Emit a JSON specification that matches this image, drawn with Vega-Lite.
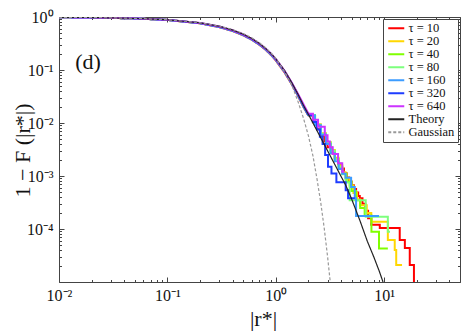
{
"$schema": "https://vega.github.io/schema/vega-lite/v6.json",
"width": 401, "height": 265,
"autosize": {"type": "none"},
"padding": {"left": 59, "top": 17, "right": 12, "bottom": 50},
"background": "white",
"config": {"view": {"stroke": "#444", "strokeWidth": 1}, "font": "Liberation Serif"},
"datasets": {
"d": [
{"s":"τ = 10","p":"b","r":0.01,"v":0.9885},{"s":"τ = 10","p":"b","r":0.02,"v":0.976},{"s":"τ = 10","p":"b","r":0.05,"v":0.94},{"s":"τ = 10","p":"b","r":0.1,"v":0.879},{"s":"τ = 10","p":"b","r":0.2,"v":0.76},{"s":"τ = 10","p":"b","r":0.3,"v":0.645},{"s":"τ = 10","p":"b","r":0.4,"v":0.543},{"s":"τ = 10","p":"b","r":0.5,"v":0.452},{"s":"τ = 10","p":"b","r":0.6,"v":0.372},{"s":"τ = 10","p":"b","r":0.7,"v":0.302},{"s":"τ = 10","p":"b","r":0.8,"v":0.243},{"s":"τ = 10","p":"b","r":0.9,"v":0.193},{"s":"τ = 10","p":"b","r":1.0,"v":0.151},{"s":"τ = 10","p":"b","r":1.2,"v":0.091},{"s":"τ = 10","p":"b","r":1.4,"v":0.054},{"s":"τ = 10","p":"b","r":1.6,"v":0.0325},{"s":"τ = 10","p":"b","r":1.8,"v":0.02},{"s":"τ = 10","p":"b","r":2.0,"v":0.0137},
{"s":"τ = 10","p":"k","r":2.0,"v":0.0137},{"s":"τ = 10","p":"k","r":2.2,"v":0.0103},{"s":"τ = 10","p":"k","r":2.4,"v":0.0076},{"s":"τ = 10","p":"k","r":2.6,"v":0.0058},{"s":"τ = 10","p":"k","r":2.8,"v":0.0045},{"s":"τ = 10","p":"k","r":3.0,"v":0.0035},{"s":"τ = 10","p":"k","r":3.26,"v":0.0027},{"s":"τ = 10","p":"k","r":3.5,"v":0.00214},{"s":"τ = 10","p":"k","r":3.75,"v":0.0017},{"s":"τ = 10","p":"k","r":4.0,"v":0.00138},{"s":"τ = 10","p":"k","r":4.25,"v":0.00113},{"s":"τ = 10","p":"k","r":4.5,"v":0.00094},{"s":"τ = 10","p":"k","r":4.75,"v":0.00079},{"s":"τ = 10","p":"k","r":5.0,"v":0.00067},{"s":"τ = 10","p":"k","r":5.25,"v":0.00057},{"s":"τ = 10","p":"k","r":5.5,"v":0.00049},{"s":"τ = 10","p":"k","r":5.75,"v":0.00042},{"s":"τ = 10","p":"k","r":5.95,"v":0.00038},{"s":"τ = 10","p":"k","r":6.3,"v":0.0003},{"s":"τ = 10","p":"k","r":6.7,"v":0.00022},{"s":"τ = 10","p":"k","r":7.1,"v":0.00016},{"s":"τ = 10","p":"k","r":7.6,"v":0.00012},{"s":"τ = 10","p":"k","r":9.1,"v":0.000105},{"s":"τ = 10","p":"k","r":13.9,"v":0.000062},{"s":"τ = 10","p":"k","r":15.5,"v":0.000044},{"s":"τ = 10","p":"k","r":17.2,"v":0.000021},{"s":"τ = 10","p":"k","r":18.8,"v":0.000005},
{"s":"τ = 20","p":"b","r":0.01,"v":0.9885},{"s":"τ = 20","p":"b","r":0.02,"v":0.9765},{"s":"τ = 20","p":"b","r":0.05,"v":0.941},{"s":"τ = 20","p":"b","r":0.1,"v":0.882},{"s":"τ = 20","p":"b","r":0.2,"v":0.766},{"s":"τ = 20","p":"b","r":0.3,"v":0.656},{"s":"τ = 20","p":"b","r":0.4,"v":0.555},{"s":"τ = 20","p":"b","r":0.5,"v":0.464},{"s":"τ = 20","p":"b","r":0.6,"v":0.382},{"s":"τ = 20","p":"b","r":0.7,"v":0.311},{"s":"τ = 20","p":"b","r":0.8,"v":0.251},{"s":"τ = 20","p":"b","r":0.9,"v":0.2},{"s":"τ = 20","p":"b","r":1.0,"v":0.158},{"s":"τ = 20","p":"b","r":1.2,"v":0.0955},{"s":"τ = 20","p":"b","r":1.4,"v":0.0565},{"s":"τ = 20","p":"b","r":1.6,"v":0.0342},{"s":"τ = 20","p":"b","r":1.8,"v":0.021},{"s":"τ = 20","p":"b","r":2.0,"v":0.0142},
{"s":"τ = 20","p":"k","r":2.0,"v":0.0142},{"s":"τ = 20","p":"k","r":2.3,"v":0.0095},{"s":"τ = 20","p":"k","r":2.6,"v":0.0064},{"s":"τ = 20","p":"k","r":2.9,"v":0.0044},{"s":"τ = 20","p":"k","r":3.2,"v":0.0031},{"s":"τ = 20","p":"k","r":3.5,"v":0.0022},{"s":"τ = 20","p":"k","r":3.8,"v":0.0016},{"s":"τ = 20","p":"k","r":4.1,"v":0.00118},{"s":"τ = 20","p":"k","r":4.4,"v":0.0009},{"s":"τ = 20","p":"k","r":4.8,"v":0.00066},{"s":"τ = 20","p":"k","r":5.2,"v":0.00048},{"s":"τ = 20","p":"k","r":5.6,"v":0.00036},{"s":"τ = 20","p":"k","r":6.0,"v":0.00028},{"s":"τ = 20","p":"k","r":6.9,"v":0.0002},{"s":"τ = 20","p":"k","r":7.6,"v":0.000137},{"s":"τ = 20","p":"k","r":10.8,"v":0.000062},{"s":"τ = 20","p":"k","r":12.5,"v":0.00004},{"s":"τ = 20","p":"k","r":12.9,"v":0.000021},{"s":"τ = 20","p":"k","r":14.6,"v":0.000021},
{"s":"τ = 40","p":"b","r":0.01,"v":0.9885},{"s":"τ = 40","p":"b","r":0.02,"v":0.9765},{"s":"τ = 40","p":"b","r":0.05,"v":0.941},{"s":"τ = 40","p":"b","r":0.1,"v":0.881},{"s":"τ = 40","p":"b","r":0.2,"v":0.765},{"s":"τ = 40","p":"b","r":0.3,"v":0.654},{"s":"τ = 40","p":"b","r":0.4,"v":0.553},{"s":"τ = 40","p":"b","r":0.5,"v":0.462},{"s":"τ = 40","p":"b","r":0.6,"v":0.38},{"s":"τ = 40","p":"b","r":0.7,"v":0.31},{"s":"τ = 40","p":"b","r":0.8,"v":0.25},{"s":"τ = 40","p":"b","r":0.9,"v":0.199},{"s":"τ = 40","p":"b","r":1.0,"v":0.157},{"s":"τ = 40","p":"b","r":1.2,"v":0.095},{"s":"τ = 40","p":"b","r":1.4,"v":0.0563},{"s":"τ = 40","p":"b","r":1.6,"v":0.034},{"s":"τ = 40","p":"b","r":1.8,"v":0.0208},{"s":"τ = 40","p":"b","r":2.0,"v":0.0141},
{"s":"τ = 40","p":"k","r":2.0,"v":0.0141},{"s":"τ = 40","p":"k","r":2.3,"v":0.0092},{"s":"τ = 40","p":"k","r":2.6,"v":0.0062},{"s":"τ = 40","p":"k","r":2.9,"v":0.0042},{"s":"τ = 40","p":"k","r":3.2,"v":0.0029},{"s":"τ = 40","p":"k","r":3.5,"v":0.0021},{"s":"τ = 40","p":"k","r":3.8,"v":0.0015},{"s":"τ = 40","p":"k","r":4.1,"v":0.0011},{"s":"τ = 40","p":"k","r":4.5,"v":0.00078},{"s":"τ = 40","p":"k","r":5.0,"v":0.00052},{"s":"τ = 40","p":"k","r":5.5,"v":0.00035},{"s":"τ = 40","p":"k","r":6.0,"v":0.00025},{"s":"τ = 40","p":"k","r":6.6,"v":0.00018},{"s":"τ = 40","p":"k","r":7.62,"v":0.000089},{"s":"τ = 40","p":"k","r":8.95,"v":0.000043},{"s":"τ = 40","p":"k","r":10.8,"v":0.000043},
{"s":"τ = 80","p":"b","r":0.01,"v":0.9885},{"s":"τ = 80","p":"b","r":0.02,"v":0.9765},{"s":"τ = 80","p":"b","r":0.05,"v":0.941},{"s":"τ = 80","p":"b","r":0.1,"v":0.881},{"s":"τ = 80","p":"b","r":0.2,"v":0.764},{"s":"τ = 80","p":"b","r":0.3,"v":0.652},{"s":"τ = 80","p":"b","r":0.4,"v":0.551},{"s":"τ = 80","p":"b","r":0.5,"v":0.46},{"s":"τ = 80","p":"b","r":0.6,"v":0.378},{"s":"τ = 80","p":"b","r":0.7,"v":0.308},{"s":"τ = 80","p":"b","r":0.8,"v":0.248},{"s":"τ = 80","p":"b","r":0.9,"v":0.198},{"s":"τ = 80","p":"b","r":1.0,"v":0.156},{"s":"τ = 80","p":"b","r":1.2,"v":0.0945},{"s":"τ = 80","p":"b","r":1.4,"v":0.056},{"s":"τ = 80","p":"b","r":1.6,"v":0.0338},{"s":"τ = 80","p":"b","r":1.8,"v":0.0207},{"s":"τ = 80","p":"b","r":2.0,"v":0.014},
{"s":"τ = 80","p":"k","r":2.0,"v":0.014},{"s":"τ = 80","p":"k","r":2.3,"v":0.0093},{"s":"τ = 80","p":"k","r":2.6,"v":0.0063},{"s":"τ = 80","p":"k","r":2.9,"v":0.0043},{"s":"τ = 80","p":"k","r":3.2,"v":0.003},{"s":"τ = 80","p":"k","r":3.5,"v":0.0021},{"s":"τ = 80","p":"k","r":3.8,"v":0.0015},{"s":"τ = 80","p":"k","r":4.1,"v":0.00108},{"s":"τ = 80","p":"k","r":4.4,"v":0.00075},{"s":"τ = 80","p":"k","r":4.8,"v":0.00035},{"s":"τ = 80","p":"k","r":6.75,"v":0.00017},{"s":"τ = 80","p":"k","r":10.8,"v":0.000089},{"s":"τ = 80","p":"k","r":11.3,"v":0.000089},
{"s":"τ = 160","p":"b","r":0.01,"v":0.9885},{"s":"τ = 160","p":"b","r":0.02,"v":0.9765},{"s":"τ = 160","p":"b","r":0.05,"v":0.94},{"s":"τ = 160","p":"b","r":0.1,"v":0.88},{"s":"τ = 160","p":"b","r":0.2,"v":0.762},{"s":"τ = 160","p":"b","r":0.3,"v":0.65},{"s":"τ = 160","p":"b","r":0.4,"v":0.548},{"s":"τ = 160","p":"b","r":0.5,"v":0.457},{"s":"τ = 160","p":"b","r":0.6,"v":0.375},{"s":"τ = 160","p":"b","r":0.7,"v":0.306},{"s":"τ = 160","p":"b","r":0.8,"v":0.247},{"s":"τ = 160","p":"b","r":0.9,"v":0.197},{"s":"τ = 160","p":"b","r":1.0,"v":0.155},{"s":"τ = 160","p":"b","r":1.2,"v":0.094},{"s":"τ = 160","p":"b","r":1.4,"v":0.0555},{"s":"τ = 160","p":"b","r":1.6,"v":0.0335},{"s":"τ = 160","p":"b","r":1.8,"v":0.0205},{"s":"τ = 160","p":"b","r":2.0,"v":0.0139},
{"s":"τ = 160","p":"k","r":2.0,"v":0.0139},{"s":"τ = 160","p":"k","r":2.3,"v":0.0091},{"s":"τ = 160","p":"k","r":2.6,"v":0.006},{"s":"τ = 160","p":"k","r":2.9,"v":0.004},{"s":"τ = 160","p":"k","r":3.2,"v":0.0027},{"s":"τ = 160","p":"k","r":3.5,"v":0.0019},{"s":"τ = 160","p":"k","r":3.8,"v":0.00135},{"s":"τ = 160","p":"k","r":4.1,"v":0.0011},{"s":"τ = 160","p":"k","r":4.4,"v":0.00093},{"s":"τ = 160","p":"k","r":4.95,"v":0.00062},{"s":"τ = 160","p":"k","r":5.35,"v":0.00038},{"s":"τ = 160","p":"k","r":5.5,"v":0.000176},{"s":"τ = 160","p":"k","r":8.95,"v":0.000176},
{"s":"τ = 320","p":"b","r":0.01,"v":0.9885},{"s":"τ = 320","p":"b","r":0.02,"v":0.9765},{"s":"τ = 320","p":"b","r":0.05,"v":0.941},{"s":"τ = 320","p":"b","r":0.1,"v":0.882},{"s":"τ = 320","p":"b","r":0.2,"v":0.767},{"s":"τ = 320","p":"b","r":0.3,"v":0.657},{"s":"τ = 320","p":"b","r":0.4,"v":0.556},{"s":"τ = 320","p":"b","r":0.5,"v":0.465},{"s":"τ = 320","p":"b","r":0.6,"v":0.383},{"s":"τ = 320","p":"b","r":0.7,"v":0.312},{"s":"τ = 320","p":"b","r":0.8,"v":0.252},{"s":"τ = 320","p":"b","r":0.9,"v":0.201},{"s":"τ = 320","p":"b","r":1.0,"v":0.158},{"s":"τ = 320","p":"b","r":1.2,"v":0.0955},{"s":"τ = 320","p":"b","r":1.4,"v":0.0566},{"s":"τ = 320","p":"b","r":1.6,"v":0.0342},{"s":"τ = 320","p":"b","r":1.8,"v":0.0211},{"s":"τ = 320","p":"b","r":2.0,"v":0.0141},
{"s":"τ = 320","p":"k","r":2.0,"v":0.0141},{"s":"τ = 320","p":"k","r":2.2,"v":0.0105},{"s":"τ = 320","p":"k","r":2.4,"v":0.0075},{"s":"τ = 320","p":"k","r":2.55,"v":0.0055},{"s":"τ = 320","p":"k","r":2.7,"v":0.004},{"s":"τ = 320","p":"k","r":2.85,"v":0.0025},{"s":"τ = 320","p":"k","r":3.03,"v":0.0015},{"s":"τ = 320","p":"k","r":3.26,"v":0.00112},{"s":"τ = 320","p":"k","r":3.62,"v":0.00076},{"s":"τ = 320","p":"k","r":4.41,"v":0.00054},{"s":"τ = 320","p":"k","r":4.64,"v":0.00038},{"s":"τ = 320","p":"k","r":5.35,"v":0.00038},
{"s":"τ = 640","p":"b","r":0.01,"v":0.9885},{"s":"τ = 640","p":"b","r":0.02,"v":0.977},{"s":"τ = 640","p":"b","r":0.05,"v":0.942},{"s":"τ = 640","p":"b","r":0.1,"v":0.884},{"s":"τ = 640","p":"b","r":0.2,"v":0.771},{"s":"τ = 640","p":"b","r":0.3,"v":0.663},{"s":"τ = 640","p":"b","r":0.4,"v":0.562},{"s":"τ = 640","p":"b","r":0.5,"v":0.47},{"s":"τ = 640","p":"b","r":0.6,"v":0.388},{"s":"τ = 640","p":"b","r":0.7,"v":0.317},{"s":"τ = 640","p":"b","r":0.8,"v":0.256},{"s":"τ = 640","p":"b","r":0.9,"v":0.204},{"s":"τ = 640","p":"b","r":1.0,"v":0.161},{"s":"τ = 640","p":"b","r":1.2,"v":0.0975},{"s":"τ = 640","p":"b","r":1.4,"v":0.058},{"s":"τ = 640","p":"b","r":1.6,"v":0.0355},{"s":"τ = 640","p":"b","r":1.8,"v":0.0225},{"s":"τ = 640","p":"b","r":2.0,"v":0.015},
{"s":"τ = 640","p":"k","r":2.0,"v":0.015},{"s":"τ = 640","p":"k","r":2.2,"v":0.0115},{"s":"τ = 640","p":"k","r":2.45,"v":0.0085},{"s":"τ = 640","p":"k","r":2.83,"v":0.0059},{"s":"τ = 640","p":"k","r":3.0,"v":0.0045},{"s":"τ = 640","p":"k","r":3.15,"v":0.0035},{"s":"τ = 640","p":"k","r":3.35,"v":0.0026},{"s":"τ = 640","p":"k","r":3.75,"v":0.00174},{"s":"τ = 640","p":"k","r":4.1,"v":0.0012},{"s":"τ = 640","p":"k","r":4.3,"v":0.0012},
{"s":"Theory","p":"t","r":0.01,"v":0.9885},{"s":"Theory","p":"t","r":0.02,"v":0.977},{"s":"Theory","p":"t","r":0.05,"v":0.943},{"s":"Theory","p":"t","r":0.1,"v":0.886},{"s":"Theory","p":"t","r":0.2,"v":0.775},{"s":"Theory","p":"t","r":0.3,"v":0.668},{"s":"Theory","p":"t","r":0.4,"v":0.567},{"s":"Theory","p":"t","r":0.5,"v":0.475},{"s":"Theory","p":"t","r":0.6,"v":0.392},{"s":"Theory","p":"t","r":0.7,"v":0.32},{"s":"Theory","p":"t","r":0.8,"v":0.258},{"s":"Theory","p":"t","r":0.9,"v":0.206},{"s":"Theory","p":"t","r":1.0,"v":0.162},{"s":"Theory","p":"t","r":1.2,"v":0.098},{"s":"Theory","p":"t","r":1.4,"v":0.058},{"s":"Theory","p":"t","r":1.6,"v":0.035},{"s":"Theory","p":"t","r":1.8,"v":0.0215},{"s":"Theory","p":"t","r":2.0,"v":0.0145},{"s":"Theory","p":"t","r":2.5,"v":0.0061},{"s":"Theory","p":"t","r":3.0,"v":0.003},{"s":"Theory","p":"t","r":3.5,"v":0.00165},{"s":"Theory","p":"t","r":4.0,"v":0.00098},{"s":"Theory","p":"t","r":4.4,"v":0.00068},{"s":"Theory","p":"t","r":5.0,"v":0.00037},{"s":"Theory","p":"t","r":6.0,"v":0.00014},{"s":"Theory","p":"t","r":7.0,"v":0.000058},{"s":"Theory","p":"t","r":8.0,"v":0.00003},{"s":"Theory","p":"t","r":9.0,"v":0.000016},{"s":"Theory","p":"t","r":9.75,"v":0.00001},{"s":"Theory","p":"t","r":10.5,"v":0.0000068},
{"s":"Gaussian","p":"t","r":0.01,"v":0.9889},{"s":"Gaussian","p":"t","r":0.02,"v":0.9778},{"s":"Gaussian","p":"t","r":0.05,"v":0.9447},{"s":"Gaussian","p":"t","r":0.1,"v":0.8896},{"s":"Gaussian","p":"t","r":0.2,"v":0.7813},{"s":"Gaussian","p":"t","r":0.3,"v":0.677},{"s":"Gaussian","p":"t","r":0.4,"v":0.5785},{"s":"Gaussian","p":"t","r":0.5,"v":0.4874},{"s":"Gaussian","p":"t","r":0.6,"v":0.4048},{"s":"Gaussian","p":"t","r":0.7,"v":0.331},{"s":"Gaussian","p":"t","r":0.8,"v":0.266},{"s":"Gaussian","p":"t","r":0.9,"v":0.211},{"s":"Gaussian","p":"t","r":1.0,"v":0.1656},{"s":"Gaussian","p":"t","r":1.2,"v":0.0948},{"s":"Gaussian","p":"t","r":1.4,"v":0.0527},{"s":"Gaussian","p":"t","r":1.6,"v":0.0256},{"s":"Gaussian","p":"t","r":1.8,"v":0.0123},{"s":"Gaussian","p":"t","r":2.0,"v":0.0057},{"s":"Gaussian","p":"t","r":2.2,"v":0.0024},{"s":"Gaussian","p":"t","r":2.4,"v":0.00087},{"s":"Gaussian","p":"t","r":2.6,"v":0.00031},{"s":"Gaussian","p":"t","r":2.8,"v":0.000101},{"s":"Gaussian","p":"t","r":3.0,"v":0.0000305},{"s":"Gaussian","p":"t","r":3.2,"v":0.0000087},{"s":"Gaussian","p":"t","r":3.3,"v":0.0000048}
],
"ann": [{"t":"(d)","r":0.0185,"v":0.142}]
},
"layer": [
{
"data": {"name": "d"},
"transform": [{"filter": "datum.p === 'b'"}],
"mark": {"type": "line", "clip": true, "strokeWidth": 2, "interpolate": "linear"},
"encoding": {
"x": {"field": "r", "type": "quantitative", "scale": {"type": "log", "domain": [0.01, 50], "nice": false},
 "axis": {"orient": "bottom", "values": [0.01,0.02,0.03,0.04,0.05,0.06,0.07,0.08,0.09,0.1,0.2,0.3,0.4,0.5,0.6,0.7,0.8,0.9,1,2,3,4,5,6,7,8,9,10,20,30,40,50],
 "labelExpr": "abs(log(datum.value)/LN10 - round(log(datum.value)/LN10)) < 0.001 ? '10' + replace(replace(replace(replace(replace(replace(toString(round(log(datum.value)/LN10)),'-','⁻'),'0','⁰'),'1','¹'),'2','²'),'3','³'),'4','⁴') : ''",
 "tickSize": {"condition": {"test": "abs(log(datum.value)/LN10 - round(log(datum.value)/LN10)) < 0.001", "value": -5}, "value": -2.5},
 "tickColor": "#444", "domain": false, "grid": false, "labelOverlap": false, "labelFlush": false,
 "labelFont": "Liberation Serif", "labelFontSize": 16, "labelColor": "#111", "labelPadding": 10,
 "title": "|r*|", "titleFont": "Liberation Serif", "titleFontSize": 22, "titleFontWeight": "normal", "titleColor": "#111",
 "titleX": 204, "titleY": 36, "titleBaseline": "middle", "titleAlign": "center"}},
"y": {"field": "v", "type": "quantitative", "scale": {"type": "log", "domain": [0.00001, 1], "nice": false},
 "axis": {"orient": "left", "values": [0.00001,0.00002,0.00003,0.00004,0.00005,0.00006,0.00007,0.00008,0.00009,0.0001,0.0002,0.0003,0.0004,0.0005,0.0006,0.0007,0.0008,0.0009,0.001,0.002,0.003,0.004,0.005,0.006,0.007,0.008,0.009,0.01,0.02,0.03,0.04,0.05,0.06,0.07,0.08,0.09,0.1,0.2,0.3,0.4,0.5,0.6,0.7,0.8,0.9,1],
 "labelExpr": "abs(log(datum.value)/LN10 - round(log(datum.value)/LN10)) < 0.001 && datum.value > 0.00002 ? '10' + replace(replace(replace(replace(replace(replace(toString(round(log(datum.value)/LN10)),'-','⁻'),'0','⁰'),'1','¹'),'2','²'),'3','³'),'4','⁴') : ''",
 "tickSize": {"condition": {"test": "abs(log(datum.value)/LN10 - round(log(datum.value)/LN10)) < 0.001", "value": -5}, "value": -2.5},
 "tickColor": "#444", "domain": false, "grid": false, "labelOverlap": false, "labelFlush": false,
 "labelFont": "Liberation Serif", "labelFontSize": 16, "labelColor": "#111", "labelPadding": 11,
 "title": "1 − F (|r*|)", "titleFont": "Liberation Serif", "titleFontSize": 22, "titleFontWeight": "normal", "titleColor": "#111",
 "titleX": -37, "titleY": 133, "titleAngle": -90, "titleBaseline": "middle", "titleAlign": "center"}},
"color": {"field": "s", "type": "nominal",
 "scale": {"domain": ["τ = 10","τ = 20","τ = 40","τ = 80","τ = 160","τ = 320","τ = 640","Theory","Gaussian"],
 "range": ["#ff0000","#ffd700","#80ff00","#7dff7d","#3c9cff","#1e3cff","#cc33ff","#222222","#999999"]},
 "legend": {"title": null, "orient": "top-right", "offset": 2, "padding": 3, "strokeColor": "#444", "fillColor": "white", "cornerRadius": 0,
 "labelFont": "Liberation Serif", "labelFontSize": 12.5, "labelColor": "#111", "symbolType": "M-1,0H3", "symbolSize": 64, "symbolStrokeWidth": 2, "rowPadding": -1.5, "labelOffset": 10,
 "labelExpr": "replace(datum.label, ' = ', '  =  ')"}},
"strokeDash": {"field": "s", "type": "nominal",
 "scale": {"domain": ["τ = 10","τ = 20","τ = 40","τ = 80","τ = 160","τ = 320","τ = 640","Theory","Gaussian"],
 "range": [[1,0],[1,0],[1,0],[1,0],[1,0],[1,0],[1,0],[1,0],[3,2]]},
 "legend": {"title": null, "orient": "top-right", "offset": 2, "padding": 3, "strokeColor": "#444", "fillColor": "white", "cornerRadius": 0,
 "labelFont": "Liberation Serif", "labelFontSize": 12.5, "labelColor": "#111", "symbolType": "M-1,0H3", "symbolSize": 64, "symbolStrokeWidth": 2, "rowPadding": -1.5, "labelOffset": 10,
 "labelExpr": "replace(datum.label, ' = ', '  =  ')"}}
}
},
{
"data": {"name": "d"},
"transform": [{"filter": "datum.p === 'k'"}],
"mark": {"type": "line", "clip": true, "strokeWidth": 2, "interpolate": "step-after"},
"encoding": {
"x": {"field": "r", "type": "quantitative", "axis": null},
"y": {"field": "v", "type": "quantitative", "axis": null},
"color": {"field": "s", "type": "nominal"},
"strokeDash": {"field": "s", "type": "nominal"}
}
},
{
"data": {"name": "d"},
"transform": [{"filter": "datum.p === 't'"}],
"mark": {"type": "line", "clip": true, "strokeWidth": 1.2},
"encoding": {
"x": {"field": "r", "type": "quantitative", "axis": null},
"y": {"field": "v", "type": "quantitative", "axis": null},
"color": {"field": "s", "type": "nominal"},
"strokeDash": {"field": "s", "type": "nominal"}
}
},
{
"data": {"name": "ann"},
"mark": {"type": "text", "font": "Liberation Serif", "fontSize": 22, "color": "#111", "align": "center", "baseline": "middle"},
"encoding": {
"x": {"field": "r", "type": "quantitative",
 "axis": {"orient": "top", "labels": false, "title": null, "domain": false, "grid": false, "tickColor": "#444",
 "values": [0.01,0.02,0.03,0.04,0.05,0.06,0.07,0.08,0.09,0.1,0.2,0.3,0.4,0.5,0.6,0.7,0.8,0.9,1,2,3,4,5,6,7,8,9,10,20,30,40,50],
 "tickSize": {"condition": {"test": "abs(log(datum.value)/LN10 - round(log(datum.value)/LN10)) < 0.001", "value": -5}, "value": -2.5}}},
"y": {"field": "v", "type": "quantitative",
 "axis": {"orient": "right", "labels": false, "title": null, "domain": false, "grid": false, "tickColor": "#444",
 "values": [0.00001,0.00002,0.00003,0.00004,0.00005,0.00006,0.00007,0.00008,0.00009,0.0001,0.0002,0.0003,0.0004,0.0005,0.0006,0.0007,0.0008,0.0009,0.001,0.002,0.003,0.004,0.005,0.006,0.007,0.008,0.009,0.01,0.02,0.03,0.04,0.05,0.06,0.07,0.08,0.09,0.1,0.2,0.3,0.4,0.5,0.6,0.7,0.8,0.9,1],
 "tickSize": {"condition": {"test": "abs(log(datum.value)/LN10 - round(log(datum.value)/LN10)) < 0.001", "value": -5}, "value": -2.5}}},
"text": {"field": "t"}
}
}
],
"resolve": {"axis": {"x": "independent", "y": "independent"}}
}
